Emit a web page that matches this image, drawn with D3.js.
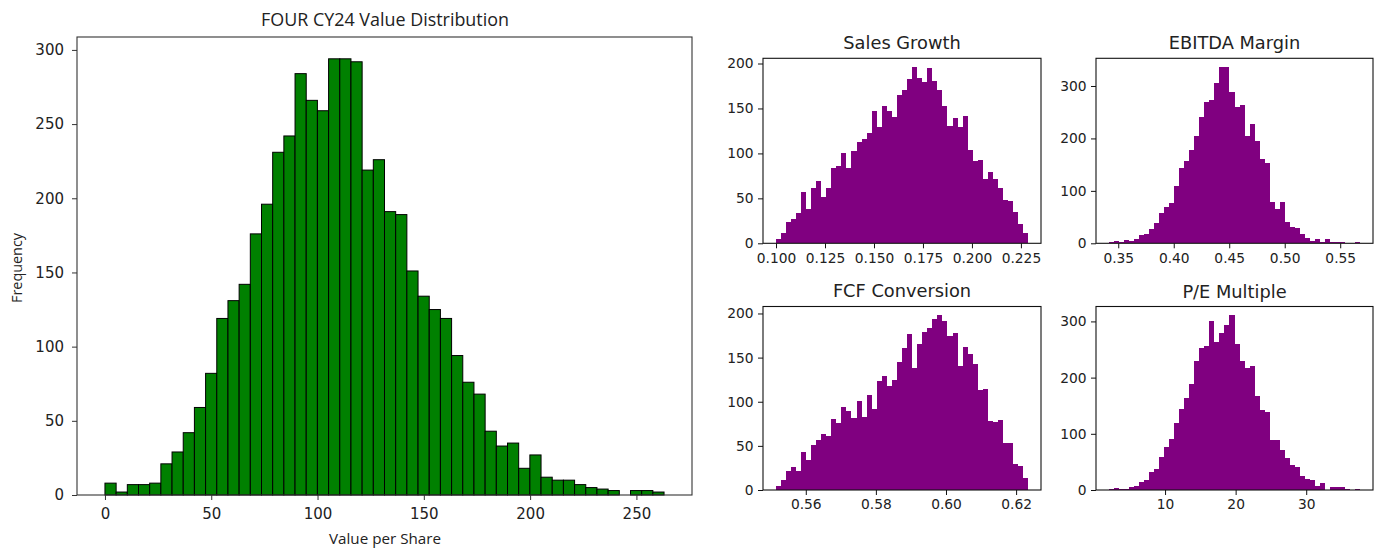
<!DOCTYPE html>
<html><head><meta charset="utf-8">
<script src="https://cdn.jsdelivr.net/npm/d3@7"></script>
<style>body{margin:0;background:#fff}svg{display:block}</style>
</head><body>
<svg id="c" width="1380" height="548"></svg>
<script>
// ---- Main histogram: Value per Share (50 bins from 0 to 263) ----
const mainRange = [0, 263];
const mainCounts = [8,2,7,7,8,21,29,42,59,82,119,131,142,176,196,231,242,284,266,259,
  294,294,292,219,226,191,189,151,134,125,119,94,76,68,43,33,35,18,27,12,
  10,10,7,5,4,3,0,3,3,2];
const mainXTicks = [0,50,100,150,200,250];
const mainYTicks = [0,50,100,150,200,250,300];

// ---- Small histograms ----
const sgRange = [0.0998, 0.2288];
const sgCounts = [5,12,24,27,34,57,38,61,69,52,62,84,86,101,84,103,113,116,123,147,
  129,153,147,141,165,171,183,196,184,179,195,181,171,153,131,139,129,142,104,91,
  93,71,79,72,61,48,47,35,22,11];
const sgXTicks = [0.100,0.125,0.150,0.175,0.200,0.225];
const sgYTicks = [0,50,100,150,200];

const ebRange = [0.3413, 0.5682];
const ebCounts = [3,4,3,6,5,9,15,17,27,38,58,70,76,109,143,157,178,204,241,270,
  274,306,336,336,288,259,263,204,228,196,160,154,78,66,78,40,31,29,17,10,
  5,8,3,8,3,3,3,0,1,3];
const ebXTicks = [0.35,0.40,0.45,0.50,0.55];
const ebYTicks = [0,100,200,300];

const fcRange = [0.5514, 0.6235];
const fcCounts = [5,11,21,26,22,43,34,51,57,64,61,80,76,94,89,82,101,83,108,92,
  123,129,118,125,145,161,177,138,165,179,183,194,198,191,175,178,140,162,154,143,
  113,114,78,77,79,53,53,29,27,14];
const fcXTicks = [0.56,0.58,0.60,0.62];
const fcYTicks = [0,50,100,150,200];

const peRange = [2.0, 37.68];
const peCounts = [2,4,2,2,5,8,15,17,32,37,59,77,91,119,145,164,189,229,253,257,
  300,264,279,294,311,260,229,217,221,167,142,139,89,89,71,57,44,41,25,20,
  17,8,12,0,5,5,5,2,0,1];
const peXTicks = [10,20,30];
const peYTicks = [0,100,200,300];

const svg = d3.select("#c");
const DJ = "DejaVu Sans, Verdana, sans-serif";
const NARROW = "'Liberation Sans Narrow', 'Open Sans', sans-serif";

function bins(range, counts){
  const n = counts.length, w = (range[1]-range[0])/n;
  return counts.map((c,i)=>({x0: range[0]+i*w, x1: range[0]+(i+1)*w, c}));
}

function panel(o){
  const g = svg.append("g");
  const r = o.range[1]-o.range[0];
  const x = d3.scaleLinear().domain([o.range[0]-0.05*r, o.range[1]+0.05*r]).range([o.l, o.r]);
  const y = d3.scaleLinear().domain([0, d3.max(o.counts)*1.05]).range([o.b, o.t]);
  const data = bins(o.range, o.counts);
  const bars = g.selectAll("rect.bar").data(data).join("rect")
    .attr("x", d=>x(d.x0)).attr("width", d=>x(d.x1)-x(d.x0))
    .attr("y", d=>y(d.c)).attr("height", d=>y(0)-y(d.c))
    .attr("fill", o.fill);
  if (o.edge) bars.attr("stroke", o.edge).attr("stroke-width", 1);
  else bars.attr("shape-rendering", "crispEdges");
  // frame
  g.append("rect").attr("x", o.l).attr("y", o.t).attr("width", o.r-o.l).attr("height", o.b-o.t)
    .attr("fill","none").attr("stroke", o.spine).attr("stroke-width", 1.1);
  // x axis
  const xa = d3.axisBottom(x).tickValues(o.xt).tickSize(o.tick).tickPadding(o.pad)
    .tickFormat(o.xf ? d3.format(o.xf) : d3.format("d"));
  g.append("g").attr("transform",`translate(0,${o.b})`).call(xa)
    .call(s=>s.select(".domain").remove())
    .call(s=>s.selectAll("text").attr("font-family", DJ).attr("font-size", o.fs).attr("fill","#222"))
    .call(s=>s.selectAll("line").attr("stroke", o.spine));
  const ya = d3.axisLeft(y).tickValues(o.yt).tickSize(o.tick).tickPadding(o.pad).tickFormat(d3.format("d"));
  g.append("g").attr("transform",`translate(${o.l},0)`).call(ya)
    .call(s=>s.select(".domain").remove())
    .call(s=>s.selectAll("text").attr("font-family", DJ).attr("font-size", o.fs).attr("fill","#222"))
    .call(s=>s.selectAll("line").attr("stroke", o.spine));
  if (o.title){
    g.append("text").attr("x", (o.l+o.r)/2).attr("y", o.ty).attr("text-anchor","middle")
      .attr("font-family", o.tfont || DJ).attr("font-size", o.tfs).attr("fill","#222")
      .text(o.title);
  }
  return {g, x, y};
}

// Main
const m = panel({range: mainRange, counts: mainCounts, l: 77, r: 692, t: 37, b: 495,
  fill: "#008000", edge: "#000", spine: "#333", xt: mainXTicks, yt: mainYTicks,
  tick: 5, pad: 8, fs: 15});
svg.append("text").attr("x", 385).attr("y", 26).attr("text-anchor","middle")
  .attr("font-family", NARROW).attr("font-size", 18.5).attr("fill","#222")
  .attr("textLength", 248).attr("lengthAdjust","spacingAndGlyphs")
  .text("FOUR CY24 Value Distribution");
svg.append("text").attr("x", 385).attr("y", 544).attr("text-anchor","middle")
  .attr("font-family", NARROW).attr("font-size", 14.5).attr("fill","#222")
  .attr("textLength", 112).attr("lengthAdjust","spacingAndGlyphs")
  .text("Value per Share");
svg.append("text").attr("transform","translate(22,268) rotate(-90)").attr("text-anchor","middle")
  .attr("font-family", NARROW).attr("font-size", 14).attr("fill","#222")
  .attr("textLength", 70).attr("lengthAdjust","spacingAndGlyphs")
  .text("Frequency");

const small = {fill: "#800080", spine: "#111", tick: 5, pad: 4.5, fs: 13.8, tfs: 17.8};
panel(Object.assign({}, small, {range: sgRange, counts: sgCounts, l: 763, r: 1041, t: 58.3, b: 243.3,
  xt: sgXTicks, yt: sgYTicks, xf: ".3f", title: "Sales Growth", ty: 49.3}));
panel(Object.assign({}, small, {range: ebRange, counts: ebCounts, l: 1096, r: 1373, t: 58.3, b: 243.3,
  xt: ebXTicks, yt: ebYTicks, xf: ".2f", title: "EBITDA Margin", ty: 49.3}));
panel(Object.assign({}, small, {range: fcRange, counts: fcCounts, l: 763, r: 1041, t: 306.5, b: 490,
  xt: fcXTicks, yt: fcYTicks, xf: ".2f", title: "FCF Conversion", ty: 297}));
panel(Object.assign({}, small, {range: peRange, counts: peCounts, l: 1096, r: 1373, t: 306.5, b: 490,
  xt: peXTicks, yt: peYTicks, title: "P/E Multiple", ty: 297.5}));
</script>
</body></html>
